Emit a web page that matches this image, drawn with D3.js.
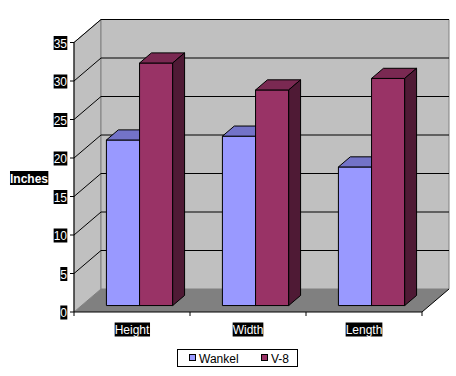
<!DOCTYPE html>
<html>
<head>
<meta charset="utf-8">
<script src="https://cdn.jsdelivr.net/npm/d3@7"></script>
<style>
  body { margin: 0; background: #fff; }
  svg { display: block; }
  text { font-family: "Liberation Sans", Arial, sans-serif; font-size: 12px; }
</style>
</head>
<body>
<svg id="chart" width="456" height="376"></svg>
<script>
'use strict';

// Data
const categories = ['Height', 'Width', 'Length'];
const seriesNames = ['Wankel', 'V-8'];
const wankel = [21.5, 22, 18];
const v8 = [31.5, 28, 29.5];
const yTicks = [0, 5, 10, 15, 20, 25, 30, 35];

// Colours for each series: front, top, side
const colors = {
  'Wankel': { front: '#9999ff', top: '#7373c8', side: '#5c5ca6' },
  'V-8': { front: '#993366', top: '#7a2952', side: '#4f1a35' }
};

// Frame setup
const svg = d3.select('#chart');
const dx = 27, dy = -23;          // depth of the 3D box
const d0 = 0.28, d1 = 0.72;       // bars sit in the middle of the depth

const y = d3.scaleLinear().domain([0, 35]).range([312, 42.5]);
const x = d3.scaleBand().domain(categories).range([74, 422]);
const xs = d3.scaleBand().domain(seriesNames).range([0, x.bandwidth()]).paddingOuter(0.75);

const pts = a => a.map(p => p.join(',')).join(' ');

// Left wall
svg.append('polygon')
  .attr('points', pts([[74, y(0)], [74, y(35)], [74 + dx, y(35) + dy], [74 + dx, y(0) + dy]]))
  .attr('fill', '#c0c0c0').attr('stroke', '#808080').attr('stroke-width', 1);
// Back wall
svg.append('polygon')
  .attr('points', pts([[74 + dx, y(35) + dy], [422 + dx, y(35) + dy], [422 + dx, y(0) + dy], [74 + dx, y(0) + dy]]))
  .attr('fill', '#c0c0c0').attr('stroke', '#808080').attr('stroke-width', 1);

// Gridlines on left and back walls
yTicks.filter(t => t > 0).forEach(t => {
  svg.append('polyline')
    .attr('points', pts([[74, y(t)], [74 + dx, y(t) + dy], [422 + dx, y(t) + dy]]))
    .attr('fill', 'none').attr('stroke', '#000').attr('stroke-width', 1);
});

// Floor
svg.append('polygon')
  .attr('points', pts([[74, y(0)], [422, y(0)], [422 + dx, y(0) + dy], [74 + dx, y(0) + dy]]))
  .attr('fill', '#808080').attr('stroke', 'none');

// Bars
const data = [];
categories.forEach((c, i) => {
  data.push({ cat: c, name: 'Wankel', value: wankel[i] });
  data.push({ cat: c, name: 'V-8', value: v8[i] });
});

data.forEach(d => {
  const ox = dx * d0, oy = dy * d0;
  const bx = dx * (d1 - d0), by = dy * (d1 - d0);
  const x0 = x(d.cat) + xs(d.name) + ox;
  const x1 = x0 + xs.bandwidth();
  const yb = y(0) + oy;
  const yt = y(d.value) + oy;
  const g = svg.append('g').attr('stroke', '#000').attr('stroke-width', 1).attr('stroke-linejoin', 'round');
  g.append('polygon').attr('points', pts([[x0, yb], [x0, yt], [x1, yt], [x1, yb]]))
    .attr('fill', colors[d.name].front);
  g.append('polygon').attr('points', pts([[x0, yt], [x0 + bx, yt + by], [x1 + bx, yt + by], [x1, yt]]))
    .attr('fill', colors[d.name].top);
  g.append('polygon').attr('points', pts([[x1, yb], [x1, yt], [x1 + bx, yt + by], [x1 + bx, yb + by]]))
    .attr('fill', colors[d.name].side);
});

// Axes lines
svg.append('line').attr('x1', 74).attr('x2', 74).attr('y1', y(0)).attr('y2', y(35))
  .attr('stroke', '#000');
svg.append('line').attr('x1', 74).attr('x2', 422).attr('y1', y(0)).attr('y2', y(0))
  .attr('stroke', '#000');
svg.append('line').attr('x1', 422).attr('x2', 422 + dx).attr('y1', y(0)).attr('y2', y(0) + dy)
  .attr('stroke', '#000');

// Label with black highlight behind white text
function boxLabel(tx, ty, str, anchor, bold) {
  const t = svg.append('text')
    .attr('x', tx).attr('y', ty + 4.5)
    .attr('text-anchor', anchor)
    .attr('fill', '#fff')
    .style('font-weight', bold ? 'bold' : 'normal')
    .text(str);
  const b = t.node().getBBox();
  svg.insert('rect', () => t.node())
    .attr('x', b.x).attr('y', ty - 7).attr('width', b.width).attr('height', 14)
    .attr('fill', '#000');
}

// Y ticks
yTicks.forEach(t => {
  svg.append('line').attr('x1', 70).attr('x2', 74).attr('y1', y(t)).attr('y2', y(t))
    .attr('stroke', '#000');
  boxLabel(67, y(t) + 0.5, String(t), 'end', false);
});

// X ticks and labels
x.domain().forEach(c => {
  svg.append('line').attr('x1', x(c)).attr('x2', x(c)).attr('y1', y(0)).attr('y2', y(0) + 4)
    .attr('stroke', '#000');
  boxLabel(x(c) + x.bandwidth() / 2, 329.5, c, 'middle', false);
});
svg.append('line').attr('x1', 422).attr('x2', 422).attr('y1', y(0)).attr('y2', y(0) + 4)
  .attr('stroke', '#000');

// Axis title
boxLabel(29, 178, 'Inches', 'middle', true);

// Legend
svg.append('rect').attr('x', 177.5).attr('y', 349.5).attr('width', 120).attr('height', 17)
  .attr('fill', '#fff').attr('stroke', '#000');
const legendX = [189, 261];
seriesNames.forEach((s, i) => {
  svg.append('rect').attr('x', legendX[i] + 0.5).attr('y', 354.5).attr('width', 6).attr('height', 6)
    .attr('fill', colors[s].front).attr('stroke', '#000');
  svg.append('text').attr('x', legendX[i] + 10).attr('y', 362.5).attr('fill', '#000').text(s);
});
</script>
</body>
</html>
